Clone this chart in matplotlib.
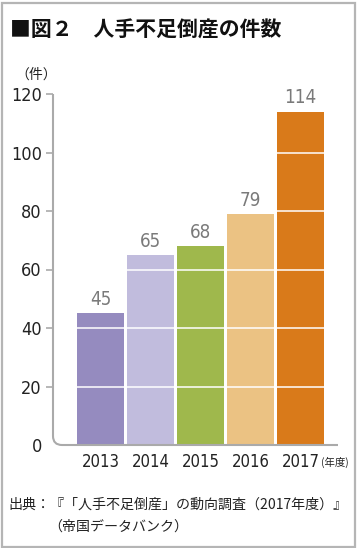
import matplotlib
matplotlib.use("Agg")
import matplotlib.pyplot as plt
from matplotlib.path import Path
from matplotlib.patches import PathPatch, Rectangle
from matplotlib import font_manager as fm

plt.rcParams['font.family'] = ['Noto Sans CJK JP', 'DejaVu Sans']

years = ["2013", "2014", "2015", "2016", "2017"]
counts = [45, 65, 68, 79, 114]
colors = ["#958bbf", "#c1bcdd", "#9fb84c", "#ebc283", "#d97a1a"]
yticks = [0, 20, 40, 60, 80, 100, 120]

# pick a condensed upright font for numbers if available
names = {f.name for f in fm.fontManager.ttflist}
cond = None
for f in fm.fontManager.ttflist:
    if (f.name == "DejaVu Sans" and f.style == "normal"
            and str(f.stretch) in ("condensed", "semi-condensed", "600", "500", "300", "400")
            and str(f.weight) in ("normal", "400", "book")):
        cond = f.fname
        break
if "Liberation Sans Narrow" in names:
    num_prop = dict(family="Liberation Sans Narrow")
elif cond:
    num_prop = dict(fontproperties=fm.FontProperties(fname=cond))
else:
    num_prop = dict(family="DejaVu Sans", fontstretch="condensed", fontstyle="normal")

W, H = 357, 548
fig = plt.figure(figsize=(W / 100, H / 100), dpi=100)
fig.patch.set_facecolor("white")

fig.patches.append(Rectangle((1.5 / W, 1.5 / H), (W - 4) / W, (H - 4) / H,
                             transform=fig.transFigure, fill=False,
                             edgecolor="#b5b5b5", linewidth=1.6))

ax_left, ax_right = 53, 338
ax_top, ax_bot = 94, 445
ax = fig.add_axes([ax_left / W, (H - ax_bot) / H, (ax_right - ax_left) / W, (ax_bot - ax_top) / H])
ax.set_facecolor("none")
ax.set_xlim(-0.95, 4.75)
ax.set_ylim(0, 120)

x = list(range(len(years)))
ax.bar(x, counts, width=0.94, color=colors, zorder=2)
ax.hlines([20, 40, 60, 80, 100], -0.5, 4.5, colors="white", linewidth=1.1, zorder=3)


def numtext(size):
    p = dict(num_prop)
    if "fontproperties" in p:
        fp = p["fontproperties"].copy()
        fp.set_size(size)
        return dict(fontproperties=fp)
    p["fontsize"] = size
    return p


for xi, v in zip(x, counts):
    ax.annotate(str(v), (xi, v), xytext=(0, 3), textcoords="offset points",
                ha="center", va="bottom", color="#7a7a7a", **numtext(13.5))

for s in ax.spines.values():
    s.set_visible(False)

r_px = 9
rx = r_px / (ax_right - ax_left)
ry = r_px / (ax_bot - ax_top)
verts = [(0, 1), (0, ry), (0, 0), (rx, 0), (1, 0)]
codes = [Path.MOVETO, Path.LINETO, Path.CURVE3, Path.CURVE3, Path.LINETO]
ax.add_patch(PathPatch(Path(verts, codes), transform=ax.transAxes, fill=False,
                       edgecolor="#aaaaaa", linewidth=1.5, clip_on=False, zorder=4))

ax.set_yticks(yticks)
ax.set_yticklabels([str(t) for t in yticks], color="#222222", **numtext(13))
ax.tick_params(axis="y", length=5, width=1.2, color="#aaaaaa", pad=3)
ax.yaxis.get_major_ticks()[0].tick1line.set_visible(False)

ax.set_xticks(x)
ax.set_xticklabels(years, color="#222222", **numtext(12))
ax.tick_params(axis="x", length=0, pad=6)

fig.text(335 / W, 1 - 462 / H, "(年度)", fontsize=7.5, ha="center", va="center", color="#222222")
fig.text(36 / W, 1 - 75 / H, "（件）", fontsize=10, ha="center", va="center", color="#222222")

fig.text(10 / W, 1 - 30 / H, "■図２　人手不足倒産の件数", fontsize=15, fontweight="bold",
         ha="left", va="center", color="#111111")

fig.text(8 / W, 1 - 505 / H, "出典：『「人手不足倒産」の動向調査（2017年度）』", fontsize=10.1,
         ha="left", va="center", color="#222222")
fig.text(48 / W, 1 - 527 / H, "（帝国データバンク）", fontsize=10.1,
         ha="left", va="center", color="#222222")

fig.savefig("out.png", dpi=100)
